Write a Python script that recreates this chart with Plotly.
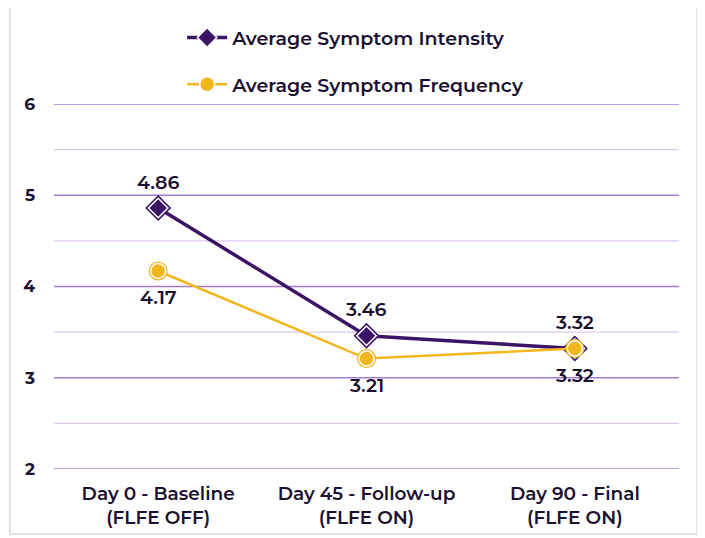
import plotly.graph_objects as go

categories = ["Day 0 - Baseline<br>(FLFE OFF)", "Day 45 - Follow-up<br>(FLFE ON)", "Day 90 - Final<br>(FLFE ON)"]
intensity = [4.86, 3.46, 3.32]
frequency = [4.17, 3.21, 3.32]
y_ticks = [2, 3, 4, 5, 6]

PURPLE = "#3b1466"
YELLOW = "#F2B61F"
TEXT = "#1c1030"
FONT = "Montserrat, 'Open Sans', sans-serif"

fig = go.Figure()
# outer rings (drawn underneath)
fig.add_trace(go.Scatter(x=categories, y=intensity, mode="markers", showlegend=False,
                         hoverinfo="skip",
                         marker=dict(symbol="diamond", size=20, color=PURPLE)))
fig.add_trace(go.Scatter(
    x=categories, y=intensity, name="Average Symptom Intensity",
    mode="lines+markers",
    line=dict(color=PURPLE, width=3.5),
    marker=dict(symbol="diamond", size=15, color=PURPLE, line=dict(color="white", width=1.5)),
    legendgroup="a",
))
fig.add_trace(go.Scatter(x=categories, y=frequency, mode="markers", showlegend=False,
                         hoverinfo="skip",
                         marker=dict(symbol="circle", size=19, color=YELLOW)))
fig.add_trace(go.Scatter(
    x=categories, y=frequency, name="Average Symptom Frequency",
    mode="lines+markers",
    line=dict(color=YELLOW, width=2.5),
    marker=dict(symbol="circle", size=15, color=YELLOW, line=dict(color="white", width=1.5)),
    legendgroup="b",
))

annotations = []
for c, v in zip(categories, intensity):
    annotations.append(dict(x=c, y=v, text=f"{v:.2f}", showarrow=False, yshift=26,
                            font=dict(size=19, color=TEXT, family=FONT, weight=600)))
for c, v in zip(categories, frequency):
    annotations.append(dict(x=c, y=v, text=f"{v:.2f}", showarrow=False, yshift=-27,
                            font=dict(size=19, color=TEXT, family=FONT, weight=600)))

# gridlines: major at integers, minor at halves
shapes = []
for v in [2.5, 3.5, 4.5, 5.5]:
    shapes.append(dict(type="line", xref="paper", yref="y", x0=0, x1=1, y0=v, y1=v,
                       line=dict(color="#dcc8f0", width=1.2), layer="below"))
for v in y_ticks:
    shapes.append(dict(type="line", xref="paper", yref="y", x0=0, x1=1, y0=v, y1=v,
                       line=dict(color="#a77ad6", width=1.3), layer="below"))
shapes.append(dict(type="rect", xref="paper", yref="paper", x0=-0.0704, x1=1.0288,
                   y0=-0.178, y1=1.2658, line=dict(color="#d9d9d9", width=1.5), layer="below"))

fig.update_layout(
    width=705, height=538,
    margin=dict(l=46, r=34, t=96, b=77, autoexpand=False),
    paper_bgcolor="white", plot_bgcolor="white",
    font=dict(family=FONT, color=TEXT),
    shapes=shapes,
    annotations=annotations,
    showlegend=True,
    legend=dict(x=0.205, y=1.234, xanchor="left", yanchor="top",
                orientation="v", tracegroupgap=19,
                font=dict(size=19, color=TEXT, family=FONT, weight=600),
                bgcolor="rgba(0,0,0,0)", itemwidth=40),
    xaxis=dict(showgrid=False, zeroline=False, showline=False, range=[-0.5, 2.5],
               tickfont=dict(size=18.5, color=TEXT, family=FONT, weight=600),
               ticks="", ticklabelstandoff=11),
    yaxis=dict(range=[2, 6], tickvals=y_ticks, showgrid=False, zeroline=False,
               showline=False, ticks="", ticklabelstandoff=18,
               tickfont=dict(size=17, color=TEXT, family=FONT, weight=700)),
)

fig.write_html("out.html")
